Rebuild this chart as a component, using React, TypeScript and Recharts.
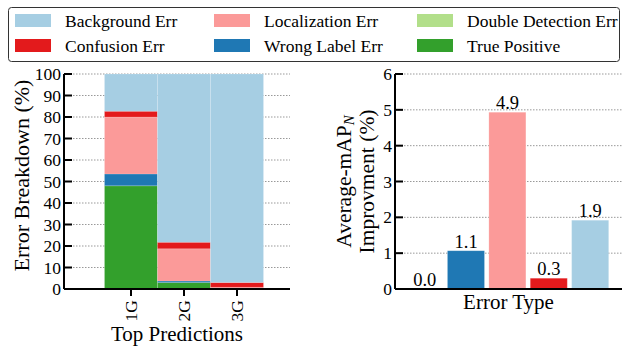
import React from 'react';
import { ComposedChart, BarChart, Bar, Line, XAxis, YAxis, CartesianGrid, Cell, LabelList } from 'recharts';

const FONT = 'Liberation Serif, DejaVu Serif, serif';

// Left chart data
const predictions = ['1G', '2G', '3G'];
const truePositive = [48, 3, 0];
const wrongLabel = [5.5, 0.7, 0];
const localization = [26.5, 15, 0.8];
const doubleDetection = [0, 0, 0];
const confusion = [2.7, 3, 2.2];
const background = [17.3, 78.3, 97];
const leftTicks = [0, 10, 20, 30, 40, 50, 60, 70, 80, 90, 100];

// Right chart data
const errorTypes = ['Double Detection', 'Wrong Label', 'Localization', 'Confusion', 'Background'];
const improvement = [0.0, 1.07, 4.93, 0.3, 1.92];
const rightTicks = [0, 1, 2, 3, 4, 5, 6];

const COLORS: Record<string, string> = {
  bg: '#a6cee3',
  loc: '#fb9a99',
  dd: '#b2df8a',
  conf: '#e31a1c',
  wl: '#1f78b4',
  tp: '#33a02c',
};
const rightColors = [COLORS.dd, COLORS.wl, COLORS.loc, COLORS.conf, COLORS.bg];

const legendItems = [
  { label: 'Background Err', color: COLORS.bg, col: 0, row: 0 },
  { label: 'Confusion Err', color: COLORS.conf, col: 0, row: 1 },
  { label: 'Localization Err', color: COLORS.loc, col: 1, row: 0 },
  { label: 'Wrong Label Err', color: COLORS.wl, col: 1, row: 1 },
  { label: 'Double Detection Err', color: COLORS.dd, col: 2, row: 0 },
  { label: 'True Positive', color: COLORS.tp, col: 2, row: 1 },
];
const legendColX = [15, 214, 417];

const leftData = predictions.map((name, i) => ({
  name,
  tp: truePositive[i],
  wl: wrongLabel[i],
  loc: localization[i],
  dd: doubleDetection[i],
  conf: confusion[i],
  bg: background[i],
}));

const rightData = errorTypes.map((name, i) => ({ name, value: improvement[i] }));

const txt = { fontFamily: FONT, fill: '#000' };

const YTick = (props: any) => {
  const { x, y, payload } = props;
  return (
    <g>
      <line x1={x} x2={x + 8} y1={y} y2={y} stroke="#000" strokeWidth={2} />
      <text x={x - 3} y={y} textAnchor="end" dominantBaseline="central" style={{ ...txt, fontSize: 17.5 }}>
        {payload.value}
      </text>
    </g>
  );
};

const XTickRot = (props: any) => {
  const { x, y, payload } = props;
  return (
    <g>
      <line x1={x} x2={x} y1={y} y2={y + 7} stroke="#000" strokeWidth={2} />
      <text
        x={0}
        y={0}
        transform={`translate(${x + 6},${y + 11}) rotate(-90)`}
        textAnchor="end"
        style={{ ...txt, fontSize: 17.5 }}
      >
        {payload.value}
      </text>
    </g>
  );
};

const Legend = () => (
  <svg width={624} height={70} style={{ position: 'absolute', left: 0, top: 0 }}>
    <rect x={8.5} y={7.5} width={611} height={54} rx={3} ry={3} fill="#fff" stroke="#333" strokeWidth={1} />
    {legendItems.map((it) => {
      const x = legendColX[it.col];
      const yTop = it.row === 0 ? 14 : 39;
      return (
        <g key={it.label}>
          <rect x={x} y={yTop} width={36} height={13} fill={it.color} />
          <text x={x + 50} y={yTop + 13} style={{ ...txt, fontSize: 17.5 }}>
            {it.label}
          </text>
        </g>
      );
    })}
  </svg>
);

const barStroke = { stroke: '#fff', strokeOpacity: 0.25, strokeWidth: 0.6 };

export default function App() {
  return (
    <div style={{ position: 'absolute', left: 0, top: 0, width: 624, height: 347, background: '#fff', fontFamily: FONT }}>
      <div style={{ position: 'absolute', left: 0, top: 0 }}>
        <BarChart width={300} height={347} data={leftData} margin={{ top: 74, right: 10, bottom: 0, left: 0 }} barCategoryGap={0}>
          <CartesianGrid vertical={false} stroke="#999" strokeDasharray="1.5 1.5" />
          <XAxis
            dataKey="name"
            padding={{ left: 40.5, right: 26.5 }}
            height={58}
            tickSize={0}
            tickMargin={0}
            tickLine={false}
            axisLine={{ stroke: '#000', strokeWidth: 2 }}
            tick={<XTickRot />}
            interval={0}
            label={(p: any) => {
              const vb = p.viewBox;
              return (
                <text x={vb.x + vb.width / 2} y={341} textAnchor="middle" style={{ ...txt, fontSize: 21 }}>
                  Top Predictions
                </text>
              );
            }}
          />
          <YAxis
            domain={[0, 100]}
            ticks={leftTicks}
            interval={0}
            width={64}
            tickSize={0}
            tickMargin={0}
            tickLine={false}
            axisLine={{ stroke: '#000', strokeWidth: 2 }}
            tick={<YTick />}
            label={(p: any) => {
              const vb = p.viewBox;
              const cy = vb.y + vb.height / 2 - 6;
              return (
                <text
                  x={0}
                  y={0}
                  transform={`translate(21,${cy}) rotate(-90)`}
                  textAnchor="middle"
                  dominantBaseline="central"
                  style={{ ...txt, fontSize: 22 }}
                >
                  Error Breakdown (%)
                </text>
              );
            }}
          />
          <Bar dataKey="tp" stackId="a" fill={COLORS.tp} {...barStroke} isAnimationActive={false} />
          <Bar dataKey="wl" stackId="a" fill={COLORS.wl} {...barStroke} isAnimationActive={false} />
          <Bar dataKey="loc" stackId="a" fill={COLORS.loc} {...barStroke} isAnimationActive={false} />
          <Bar dataKey="dd" stackId="a" fill={COLORS.dd} {...barStroke} isAnimationActive={false} />
          <Bar dataKey="conf" stackId="a" fill={COLORS.conf} {...barStroke} isAnimationActive={false} />
          <Bar dataKey="bg" stackId="a" fill={COLORS.bg} {...barStroke} isAnimationActive={false} />
        </BarChart>
      </div>
      <div style={{ position: 'absolute', left: 300, top: 0 }}>
        <ComposedChart width={324} height={347} data={rightData} margin={{ top: 74, right: 2, bottom: 0, left: 0 }} barCategoryGap="5%">
          <CartesianGrid vertical={false} stroke="#999" strokeDasharray="1.5 1.5" />
          <XAxis
            dataKey="name"
            padding={{ left: 9, right: 11 }}
            height={58}
            tick={false}
            tickLine={false}
            axisLine={{ stroke: '#000', strokeWidth: 2 }}
            label={(p: any) => {
              const vb = p.viewBox;
              return (
                <text x={vb.x + vb.width / 2} y={309} textAnchor="middle" style={{ ...txt, fontSize: 21 }}>
                  Error Type
                </text>
              );
            }}
          />
          <YAxis
            domain={[0, 6]}
            ticks={rightTicks}
            interval={0}
            width={95}
            tickSize={0}
            tickMargin={0}
            tickLine={false}
            axisLine={{ stroke: '#000', strokeWidth: 2 }}
            tick={<YTick />}
            label={(p: any) => {
              const vb = p.viewBox;
              const cy = vb.y + vb.height / 2;
              return (
                <g>
                  <text
                    x={0}
                    y={0}
                    transform={`translate(44,${cy}) rotate(-90)`}
                    textAnchor="middle"
                    dominantBaseline="central"
                    style={{ ...txt, fontSize: 21.5 }}
                  >
                    Average-mAP
                    <tspan style={{ fontSize: 15, fontStyle: 'italic' }} dy={5}>N</tspan>
                  </text>
                  <text
                    x={0}
                    y={0}
                    transform={`translate(67,${cy}) rotate(-90)`}
                    textAnchor="middle"
                    dominantBaseline="central"
                    style={{ ...txt, fontSize: 21.5 }}
                  >
                    Improvment (%)
                  </text>
                </g>
              );
            }}
          />
          <Bar dataKey="value" {...barStroke} isAnimationActive={false}>
            {rightData.map((d, i) => (
              <Cell key={d.name} fill={rightColors[i]} />
            ))}
          </Bar>
          <Line dataKey="value" stroke="none" dot={false} activeDot={false} legendType="none" isAnimationActive={false}>
            <LabelList
              dataKey="value"
              position="top"
              offset={3}
              formatter={(v: any) => Number(v).toFixed(1)}
              style={{ fontSize: 18.5, fontFamily: FONT, fill: '#000' }}
            />
          </Line>
        </ComposedChart>
      </div>
      <Legend />
    </div>
  );
}
